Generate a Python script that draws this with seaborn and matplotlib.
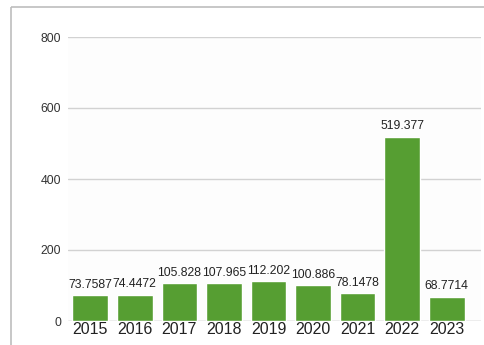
import matplotlib
matplotlib.use("Agg")
import matplotlib.pyplot as plt
import seaborn as sns
import pandas as pd
from matplotlib.lines import Line2D

years = ["2015", "2016", "2017", "2018", "2019", "2020", "2021", "2022", "2023"]
values = [73.7587, 74.4472, 105.828, 107.965, 112.202, 100.886, 78.1478, 519.377, 68.7714]
y_ticks = [0, 200, 400, 600, 800]

sns.set_style("white")
plt.rcParams["font.family"] = ["Liberation Sans", "DejaVu Sans"]

df = pd.DataFrame({"year": years, "value": values})

fig = plt.figure(figsize=(4.85, 3.45), dpi=100)
fig.patch.set_facecolor("white")

# outer frame: top and left edges
fx, fy = 11 / 485, 1 - 7 / 345
fig.add_artist(Line2D([fx, 1.02], [fy, fy], transform=fig.transFigure,
                      color="#bdbdbd", linewidth=1.2, solid_capstyle="butt"))
fig.add_artist(Line2D([fx, fx], [-0.02, fy], transform=fig.transFigure,
                      color="#bdbdbd", linewidth=1.2, solid_capstyle="butt"))

ax = fig.add_axes([68 / 485, 1 - 321 / 345, (481 - 68) / 485, (321 - 37) / 345])
ax.set_facecolor("#fdfdfd")

sns.barplot(data=df, x="year", y="value", color="#569e32", saturation=1,
            width=0.8, ax=ax, zorder=3)

ax.bar_label(ax.containers[0], labels=[f"{v:.6g}" for v in values],
             padding=3, fontsize=8.8, color="#222222")

ax.set_ylim(0, 800)
ax.set_xlim(-0.5, 8.77)
ax.set_yticks(y_ticks)
ax.yaxis.grid(True, color="#d2d2d2", linewidth=1, zorder=0)
ax.set_axisbelow(True)
for s in ax.spines.values():
    s.set_visible(False)
ax.axhline(0, color="#d2d2d2", linewidth=1, zorder=1)

ax.tick_params(axis="y", length=0, pad=5, labelsize=8.8, labelcolor="#333333")
ax.tick_params(axis="x", length=0, pad=1, labelsize=11.5, labelcolor="#222222")
ax.set_xlabel("")
ax.set_ylabel("")

fig.savefig("out.png", dpi=100)
